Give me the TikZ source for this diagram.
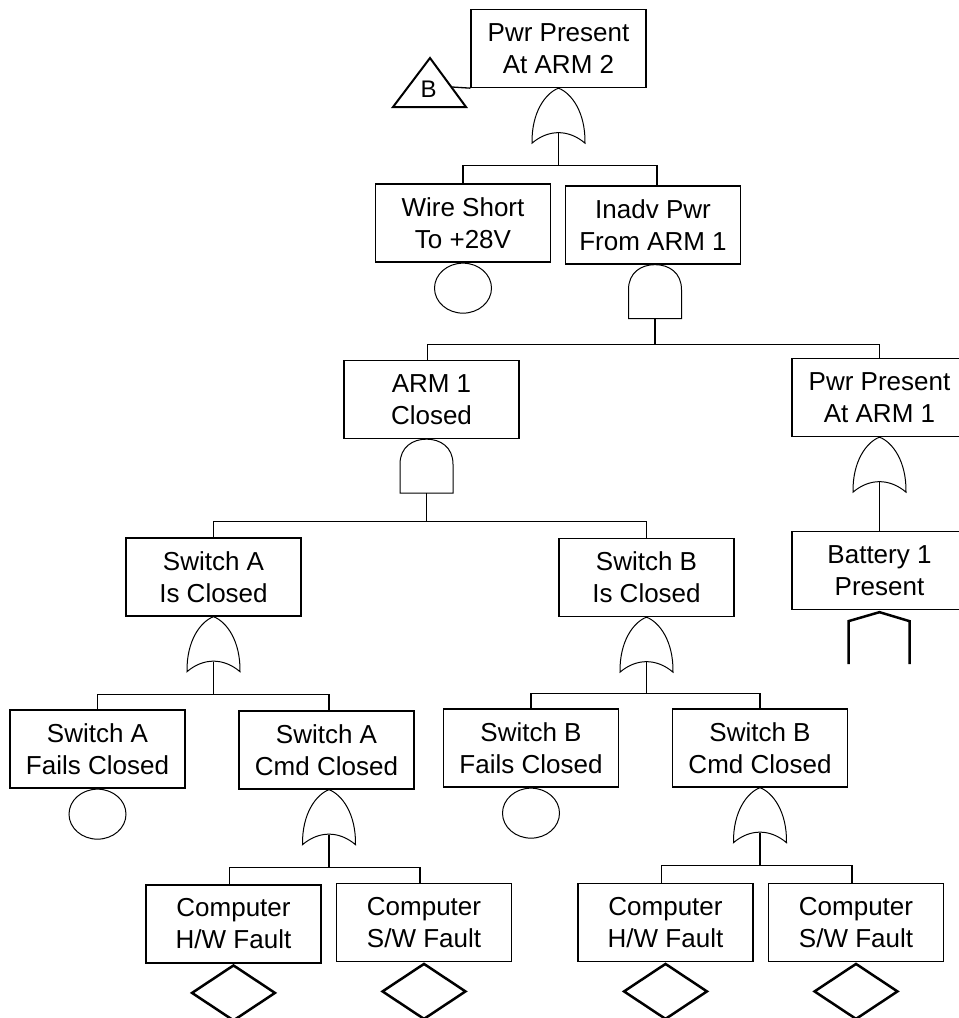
\documentclass[tikz,border=0pt]{standalone}
\usepackage{fontspec}
\setmainfont{Liberation Sans}
\usetikzlibrary{positioning, shapes.geometric}
\tikzset{
  orgate/.pic={
    \draw[line width=1pt] (-26.5,55) .. controls (-27,24) and (-13,5) .. (0,0)
      .. controls (13,5) and (27,24) .. (26.5,55)
      .. controls (10,41) and (-10,41) .. cycle;
    \coordinate (-in) at (0,45);
  },
  andgate/.pic={
    \draw[line width=1pt] (-26.5,54) -- (-26.5,25) .. controls (-26.5,8) and (-14,0) .. (0,0)
      .. controls (14,0) and (26.5,8) .. (26.5,25) -- (26.5,54) -- cycle;
    \coordinate (-in) at (0,54);
  }
}

\begin{document}
\begin{tikzpicture}[x=1pt, y=-1pt,
    box/.style={draw, line width=1.3pt, minimum width=175pt, minimum height=78pt,
      inner sep=2pt, align=center, font=\fontsize{26}{32}\selectfont},
    basic/.style={ellipse, draw, line width=1pt, minimum width=57pt, minimum height=50pt, inner sep=0pt},
    undev/.style={diamond, draw, line width=2.5pt, minimum width=84pt, minimum height=56pt, inner sep=0pt},
    house/.style={line width=2.5pt},
    link/.style={line width=1.3pt}]
    \useasboundingbox (0,0) rectangle (959,1018);

    % Top event and transfer in
    \node[box] (top) at (558.5,48.5) {Pwr Present\\At ARM 2};
    \draw[line width=2pt] (430,58) -- (466,107) -- (393,107) -- cycle;
    \node[font=\fontsize{24}{28}\selectfont, inner sep=0pt] (trB) at (428.5,89) {B};
    \coordinate (trBside) at (452,87);
    \draw[link] (trBside) -- (top.south west);
    \pic (gtop) at (top.south) {orgate};

    % Second level
    \node[box] (wire) at (463,223) {Wire Short\\To +28V};
    \node[box] (inadv) at (653,225) {Inadv Pwr\\From ARM 1};
    \draw[link] (gtop-in) -- ++(0,32) coordinate (jtop);
    \draw[link] (wire.north) |- (jtop) -| ([xshift=4pt]inadv.north);
    \node[basic, below=0pt of wire] (wireev) {};
    \pic (ginadv) at ([xshift=2pt]inadv.south) {andgate};

    % ARM 1 and power at ARM 1
    \node[box] (arm1) at (431.5,399.5) {ARM 1\\Closed};
    \node[box] (pwr1) at (879.5,397.5) {Pwr Present\\At ARM 1};
    \draw[link] (ginadv-in) -- ++(0,26) coordinate (jinadv);
    \draw[link] ([xshift=-4pt]arm1.north) |- (jinadv) -| (pwr1.north);
    \pic (garm1) at ([xshift=-5pt]arm1.south) {andgate};
    \pic (gpwr1) at (pwr1.south) {orgate};

    % Battery (house event)
    \node[box] (batt) at (879.5,570.5) {Battery 1\\Present};
    \draw[link] (gpwr1-in) -- (batt.north);
    \draw[house] (batt.south) ++(-31,54) -- ++(0,-43) -- ++(31,-9) -- ++(30,9) -- ++(0,43);

    % Switch level
    \node[box] (swA) at (213.5,577) {Switch A\\Is Closed};
    \node[box] (swB) at (646.5,577.5) {Switch B\\Is Closed};
    \draw[link] (garm1-in) -- ++(0,28) coordinate (jarm1);
    \draw[link] (swA.north) |- (jarm1) -| (swB.north);
    \pic (gswA) at (swA.south) {orgate};
    \pic (gswB) at (swB.south) {orgate};

    % Switch A causes
    \node[box] (swAf) at (97.5,749) {Switch A\\Fails Closed};
    \node[box] (swAc) at (326.5,750) {Switch A\\Cmd Closed};
    \draw[link] (gswA-in) -- ++(0,33) coordinate (jswA);
    \draw[link] (swAf.north) |- (jswA) -| ([xshift=2.5pt]swAc.north);
    \node[basic, below=0pt of swAf] (swAfev) {};
    \pic (gswAc) at ([xshift=2.5pt]swAc.south) {orgate};

    % Switch B causes
    \node[box] (swBf) at (531,748) {Switch B\\Fails Closed};
    \node[box] (swBc) at (760,748) {Switch B\\Cmd Closed};
    \draw[link] (gswB-in) -- ++(0,31) coordinate (jswB);
    \draw[link] (swBf.north) |- (jswB) -| (swBc.north);
    \node[basic, below=0pt of swBf] (swBfev) {};
    \pic (gswBc) at (swBc.south) {orgate};

    % Computer faults under A
    \node[box] (hwA) at (233.5,924) {Computer\\H/W Fault};
    \node[box] (swwA) at (424,922.5) {Computer\\S/W Fault};
    \draw[link] (gswAc-in) -- ++(0,33) coordinate (jswAc);
    \draw[link] ([xshift=-4pt]hwA.north) |- (jswAc) -| ([xshift=-4pt]swwA.north);
    \node[undev, below=0pt of hwA] (hwAev) {};
    \node[undev, below=0pt of swwA] (swwAev) {};

    % Computer faults under B
    \node[box] (hwB) at (665.5,922.5) {Computer\\H/W Fault};
    \node[box] (swwB) at (856,922.5) {Computer\\S/W Fault};
    \draw[link] (gswBc-in) -- ++(0,33) coordinate (jswBc);
    \draw[link] ([xshift=-4pt]hwB.north) |- (jswBc) -| ([xshift=-4pt]swwB.north);
    \node[undev, below=0pt of hwB] (hwBev) {};
    \node[undev, below=0pt of swwB] (swwBev) {};
\end{tikzpicture}
\end{document}
